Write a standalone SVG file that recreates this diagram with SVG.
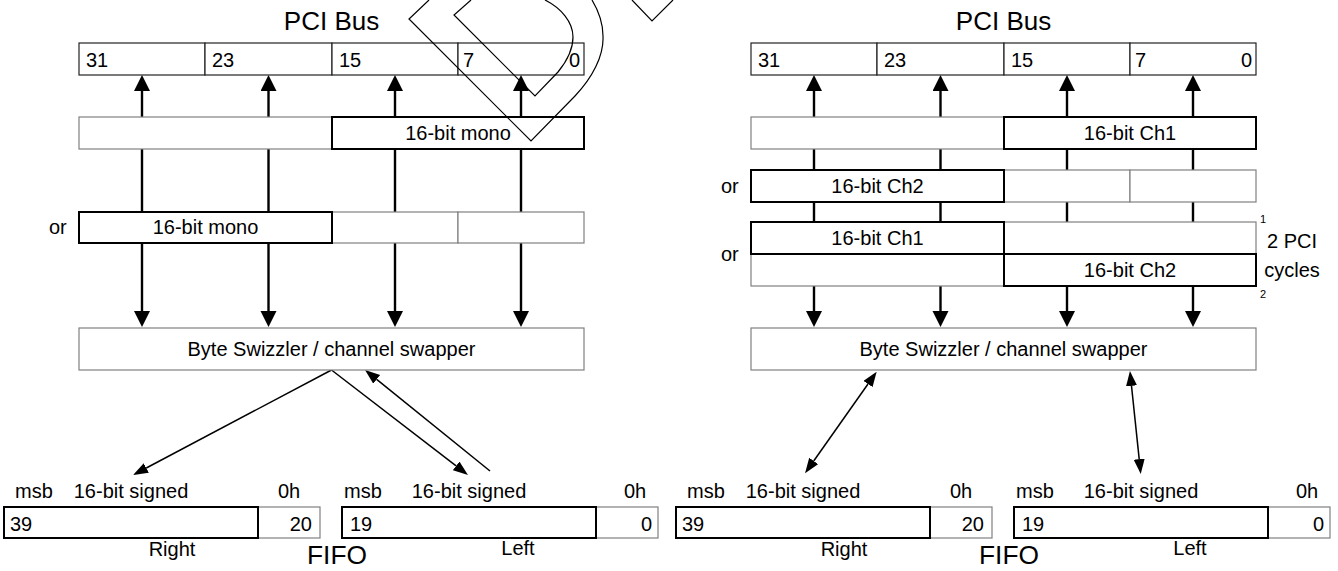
<svg xmlns="http://www.w3.org/2000/svg" width="1338" height="571" viewBox="0 0 1338 571">
<defs>
<marker id="big" markerUnits="userSpaceOnUse" markerWidth="17" markerHeight="17" refX="0" refY="8" orient="auto"><path d="M0,0 L16,8 L0,16 z" fill="#000"/></marker>
<marker id="sm" markerUnits="userSpaceOnUse" markerWidth="16" markerHeight="12" refX="0" refY="5.5" orient="auto-start-reverse"><path d="M0,0 L15,5.5 L0,11 z" fill="#000"/></marker>
<style>
text{font-family:"Liberation Sans",Arial,sans-serif;font-size:20px;fill:#000}
.t{font-size:26px}
.f{font-size:25px}
.c{text-anchor:middle}
.e{text-anchor:end}
.s{font-size:11px}
.bus{fill:#fff;stroke:#222;stroke-width:1.2}
.thin{fill:#fff;stroke:#808080;stroke-width:1.2}
.hl{fill:#fff;stroke:#000;stroke-width:2}
.v{stroke:#000;stroke-width:2.4;fill:none}
.d{stroke:#000;stroke-width:1.5;fill:none}
.h{stroke:#000;stroke-width:1.2;fill:none}
</style>
</defs>
<rect width="1338" height="571" fill="#fff"/>

<g id="connectors">
  <path class="v" d="M142,117V91" marker-end="url(#big)"/>
  <path class="v" d="M268.5,117V91" marker-end="url(#big)"/>
  <path class="v" d="M395,117V91" marker-end="url(#big)"/>
  <path class="v" d="M521,117V91" marker-end="url(#big)"/>
  <path class="v" d="M142,149V212M268.5,149V212M395,149V212M521,149V212"/>
  <path class="v" d="M142,243V311" marker-end="url(#big)"/>
  <path class="v" d="M268.5,243V311" marker-end="url(#big)"/>
  <path class="v" d="M395,243V311" marker-end="url(#big)"/>
  <path class="v" d="M521,243V311" marker-end="url(#big)"/>

  <path class="v" d="M814,117V91" marker-end="url(#big)"/>
  <path class="v" d="M940.5,117V91" marker-end="url(#big)"/>
  <path class="v" d="M1067,117V91" marker-end="url(#big)"/>
  <path class="v" d="M1193,117V91" marker-end="url(#big)"/>
  <path class="v" d="M814,149V170M940.5,149V170M1067,149V170M1193,149V170M814,202V222M940.5,202V222M1067,202V222M1193,202V222"/>
  <path class="v" d="M814,286V311" marker-end="url(#big)"/>
  <path class="v" d="M940.5,286V311" marker-end="url(#big)"/>
  <path class="v" d="M1067,286V311" marker-end="url(#big)"/>
  <path class="v" d="M1193,286V311" marker-end="url(#big)"/>

  <path class="d" d="M331.5,370L146.3,468" marker-end="url(#sm)"/>
  <path class="d" d="M331.5,370L456.1,465.9" marker-end="url(#sm)"/>
  <path class="d" d="M490,471L376.7,379.4" marker-end="url(#sm)"/>
  <path class="d" d="M868,384L813.7,461" marker-start="url(#sm)" marker-end="url(#sm)"/>
  <path class="d" d="M1131.5,385.9L1139.2,459.1" marker-start="url(#sm)" marker-end="url(#sm)"/>
</g>

<g id="left-title"><text class="t c" x="331.5" y="30">PCI Bus</text></g>
<g id="left-bus">
  <rect class="bus" x="79" y="43" width="126" height="32"/>
  <rect class="bus" x="205" y="43" width="127" height="32"/>
  <rect class="bus" x="332" y="43" width="126" height="32"/>
  <rect class="bus" x="458" y="43" width="126" height="32"/>
  <text x="86" y="67">31</text><text x="212" y="67">23</text><text x="339" y="67">15</text><text x="463" y="67">7</text><text class="e" x="580" y="67">0</text>
</g>
<g id="left-row1">
  <rect class="thin" x="79" y="117" width="253" height="32"/>
  <rect class="hl" x="332" y="117" width="252" height="32"/>
  <text class="c" x="458" y="140">16-bit mono</text>
</g>
<g id="left-row2">
  <text x="49" y="234">or</text>
  <rect class="thin" x="332" y="212" width="126" height="31"/>
  <rect class="thin" x="458" y="212" width="126" height="31"/>
  <rect class="hl" x="79" y="212" width="253" height="31"/>
  <text class="c" x="205.5" y="234">16-bit mono</text>
</g>
<g id="left-swizzler">
  <rect class="thin" x="79" y="328" width="505" height="42"/>
  <text class="c" x="331.5" y="356">Byte Swizzler / channel swapper</text>
</g>
<g id="left-fifo-right">
  <text x="15" y="498">msb</text><text class="c" x="131" y="498">16-bit signed</text><text x="278" y="498">0h</text>
  <rect class="thin" x="258" y="507" width="62" height="31"/>
  <rect class="hl" x="4" y="507" width="254" height="31"/>
  <text x="10" y="531">39</text><text class="e" x="312" y="531">20</text>
  <text class="c" x="172" y="556">Right</text>
</g>
<g id="left-fifo-left">
  <text x="344" y="498">msb</text><text class="c" x="469" y="498">16-bit signed</text><text x="624" y="498">0h</text>
  <rect class="thin" x="596" y="507" width="62" height="31"/>
  <rect class="hl" x="342" y="507" width="254" height="31"/>
  <text x="350" y="531">19</text><text class="e" x="652" y="531">0</text>
  <text class="c" x="518" y="555">Left</text>
</g>
<g id="left-fifo-label"><text class="f" x="307" y="564" textLength="60" lengthAdjust="spacingAndGlyphs">FIFO</text></g>

<g id="right-title"><text class="t c" x="1003.5" y="30">PCI Bus</text></g>
<g id="right-bus">
  <rect class="bus" x="751" y="43" width="126" height="32"/>
  <rect class="bus" x="877" y="43" width="127" height="32"/>
  <rect class="bus" x="1004" y="43" width="126" height="32"/>
  <rect class="bus" x="1130" y="43" width="126" height="32"/>
  <text x="758" y="67">31</text><text x="884" y="67">23</text><text x="1011" y="67">15</text><text x="1135" y="67">7</text><text class="e" x="1252" y="67">0</text>
</g>
<g id="right-row1">
  <rect class="thin" x="751" y="117" width="253" height="32"/>
  <rect class="hl" x="1004" y="117" width="252" height="32"/>
  <text class="c" x="1130" y="140">16-bit Ch1</text>
</g>
<g id="right-row2">
  <text x="721" y="193">or</text>
  <rect class="thin" x="1004" y="170" width="126" height="32"/>
  <rect class="thin" x="1130" y="170" width="126" height="32"/>
  <rect class="hl" x="751" y="170" width="253" height="32"/>
  <text class="c" x="877.5" y="193">16-bit Ch2</text>
</g>
<g id="right-row3">
  <text x="721" y="261">or</text>
  <rect class="thin" x="1004" y="222" width="252" height="32"/>
  <rect class="thin" x="751" y="254" width="253" height="32"/>
  <rect class="hl" x="751" y="222" width="253" height="32"/>
  <rect class="hl" x="1004" y="254" width="252" height="32"/>
  <text class="c" x="877.5" y="245">16-bit Ch1</text>
  <text class="c" x="1130" y="277">16-bit Ch2</text>
  <text class="s" x="1260" y="223">1</text>
  <text class="s" x="1260" y="298">2</text>
  <text class="c" x="1292" y="248">2 PCI</text>
  <text class="c" x="1292" y="277">cycles</text>
</g>
<g id="right-swizzler">
  <rect class="thin" x="751" y="328" width="505" height="42"/>
  <text class="c" x="1003.5" y="356">Byte Swizzler / channel swapper</text>
</g>
<g id="right-fifo-right">
  <text x="687" y="498">msb</text><text class="c" x="803" y="498">16-bit signed</text><text x="950" y="498">0h</text>
  <rect class="thin" x="930" y="507" width="62" height="31"/>
  <rect class="hl" x="676" y="507" width="254" height="31"/>
  <text x="682" y="531">39</text><text class="e" x="984" y="531">20</text>
  <text class="c" x="844" y="556">Right</text>
</g>
<g id="right-fifo-left">
  <text x="1016" y="498">msb</text><text class="c" x="1141" y="498">16-bit signed</text><text x="1296" y="498">0h</text>
  <rect class="thin" x="1268" y="507" width="62" height="31"/>
  <rect class="hl" x="1014" y="507" width="254" height="31"/>
  <text x="1022" y="531">19</text><text class="e" x="1324" y="531">0</text>
  <text class="c" x="1190" y="555">Left</text>
</g>
<g id="right-fifo-label"><text class="f" x="979" y="564" textLength="60" lengthAdjust="spacingAndGlyphs">FIFO</text></g>

<g id="doodle">
  <path class="h" d="M429,0L409,19L531,141L575,96C592,78 604,56 603,36C603,22 598,10 592,0"/>
  <path class="h" d="M471,0L454,15L535,96L558,72C567,61 573,49 573,37C573,22 561,8 545,0"/>
  <path class="h" d="M632,0L652,21L673,0"/>
</g>
</svg>
